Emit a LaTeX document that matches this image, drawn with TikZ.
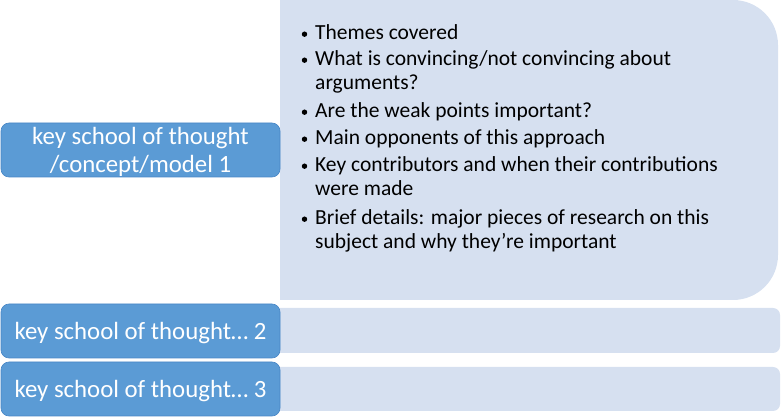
\documentclass[tikz,border=0pt]{standalone}
\usepackage{fontspec}
\setmainfont{Carlito}
\usetikzlibrary{calc}

\definecolor{keyblue}{RGB}{91,155,213}
\definecolor{keyedge}{RGB}{72,134,198}
\definecolor{panelblue}{RGB}{214,224,240}

\begin{document}
\begin{tikzpicture}[
  x=1pt,y=-1pt,
  % dark blue heading boxes on the left
  keybox/.style={draw=keyedge,line width=0.6pt,fill=keyblue,text=white,
                 rounded corners=8pt,minimum width=279pt,minimum height=54pt,
                 inner sep=2pt,align=center,text depth=0pt,
                 font={\fontsize{24.8}{28}\selectfont}},
  % light panels behind the bullet lists
  panel/.style={fill=panelblue,draw=none},
  % a multi-line node sits on the baseline of its last line
  itemtxt/.style={anchor=base west,inner sep=0pt,align=left,
                  font={\fontsize{21.5}{24}\selectfont}},
  dot/.style={circle,fill=black,inner sep=0pt,minimum size=5.4pt},
]
\useasboundingbox (0,0) rectangle (782,419);

%--- panels -----------------------------------------------------------------
\def\rbig{45}      % corner radius of the big panel
\def\rsmall{7}     % corner radius of the thin panels

% y runs downwards here, so the arcs turn the other way
\fill[panel] (280,0) -- (778-\rbig,0) arc[start angle=-90,end angle=0,radius=\rbig]
  -- (778,300-\rbig) arc[start angle=0,end angle=90,radius=\rbig]
  -- (280,300) -- cycle;

\foreach \ya/\yb in {308/353, 367/411} {
  \fill[panel] (280,\ya) -- (780-\rsmall,\ya)
    arc[start angle=-90,end angle=0,radius=\rsmall]
    -- (780,\yb-\rsmall) arc[start angle=0,end angle=90,radius=\rsmall]
    -- (280,\yb) -- cycle;
}

%--- heading boxes ----------------------------------------------------------
\node[keybox] (key1) at (140.5,150) {key school of thought\\/concept/model 1};
\node[keybox] (key2) at (140.5,331) {key school of thought… 2};
\node[keybox] (key3) at (140.5,389) {key school of thought… 3};

%--- bullet list in the big panel ------------------------------------------
% number / baseline of first line / extra lines / text
\foreach \n/\y/\k/\txt in {
    1/40/0/{Themes covered},
    2/66/1/{What is convincing/not convincing about\\arguments?},
    3/118/0/{Are the weak points important?},
    4/145/0/{Main opponents of this approach},
    5/172/1/{Key contributors and when their contributions\\were made},
    6/225/1/{Brief details: major pieces of research on this\\subject and why they’re important}} {
  \node[dot] (dot\n) at (304.5,\y-5.8) {};
  \node[itemtxt] (item\n) at (315,\y+24*\k) {\txt};
}

\end{tikzpicture}
\end{document}
